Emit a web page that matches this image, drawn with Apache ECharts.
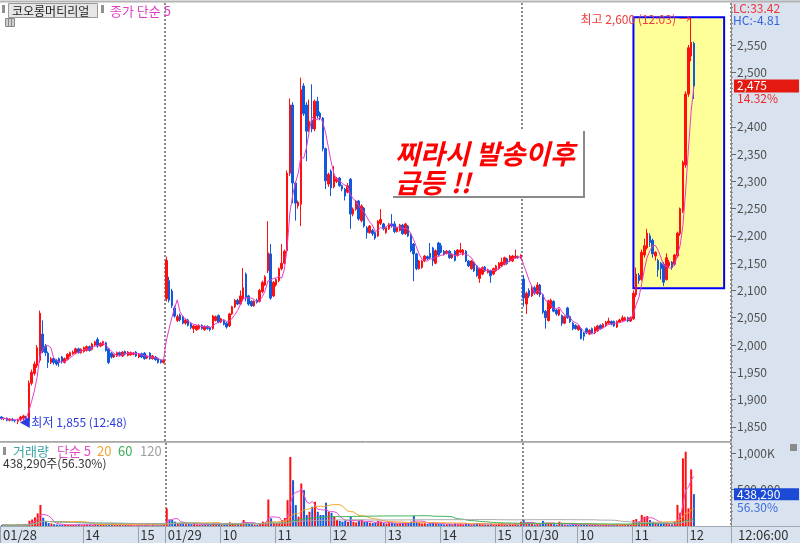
<!DOCTYPE html>
<html><head><meta charset="utf-8">
<script src="https://cdn.jsdelivr.net/npm/echarts@6/dist/echarts.min.js"></script>
<style>html,body{margin:0;padding:0;background:#fff}#c{width:800px;height:543px}</style>
</head><body><div id="c"></div>
<script>
// ---------- DATA ----------
const dayNames = ['01/28', '01/29', '01/30'];
const dayStartMin = [12 * 60 + 30, 9 * 60, 9 * 60];
const stepMin = 3;
// [open, close, low, high]
const day1 = [
[1868,1865,1863,1870],[1865,1866,1862,1867],[1866,1862,1860,1867],[1862,1864,1860,1865],[1864,1862,1860,1866],
[1862,1861,1858,1864],[1860,1863,1855,1865],[1863,1868,1860,1870],[1866,1870,1862,1872],[1868,1864,1860,1870],
[1862,1930,1860,1935],[1930,1950,1926,1955],[1948,1965,1944,1970],[1962,1995,1958,2000],[1972,2058,1968,2063],
[2020,1988,1985,2045],[1998,1986,1980,2002],[1985,1968,1958,1988],[1968,1975,1965,1978],[1975,1968,1964,1977],
[1972,1965,1962,1974],[1975,1968,1960,1977],[1978,1970,1966,1980],[1968,1975,1966,1977],[1974,1983,1972,1985],
[1980,1986,1978,1988],[1984,1987,1982,1990],[1985,1993,1983,1995],[1993,1986,1984,1995],[1986,1992,1984,1994],
[1988,1995,1986,1997],[1990,1997,1988,1999],[1997,1990,1988,1999],[1992,2002,1990,2004],[2000,2006,1998,2008],
[2010,1998,1995,2014],[1998,2003,1996,2005],[2000,2006,1998,2008],[2004,1990,1988,2006],[1993,1968,1965,1995],
[1985,1978,1975,1987],[1978,1982,1976,1984],[1980,1986,1978,1988],[1986,1982,1980,1988],[1980,1987,1978,1989],
[1988,1983,1981,1990],[1981,1987,1979,1989],[1982,1986,1980,1988],[1983,1985,1981,1987],[1987,1980,1978,1989],
[1978,1983,1976,1985],[1984,1978,1976,1986],[1985,1975,1973,1987],[1976,1980,1974,1982],[1985,1975,1973,1987],
[1975,1980,1973,1982],[1978,1973,1971,1980],[1975,1968,1966,1977],[1972,1968,1966,1974],[1968,1972,1966,1974]
];
const day2 = [
[2085,2155,2080,2162],[2118,2082,2078,2125],[2099,2072,2068,2103],[2068,2053,2050,2072],[2045,2052,2042,2056],
[2055,2046,2043,2058],[2052,2040,2038,2054],[2040,2046,2037,2048],[2046,2036,2034,2048],[2040,2032,2029,2042],
[2030,2035,2022,2037],[2028,2035,2026,2037],[2030,2036,2028,2038],[2036,2030,2028,2038],[2028,2034,2026,2036],
[2034,2030,2028,2036],[2032,2028,2025,2034],[2030,2053,2028,2055],[2045,2052,2043,2054],[2054,2042,2040,2056],
[2042,2048,2040,2050],[2045,2038,2036,2047],[2040,2033,2030,2042],[2035,2057,2033,2059],[2057,2070,2055,2072],
[2070,2082,2068,2084],[2082,2075,2073,2085],[2075,2090,2073,2100],[2085,2105,2080,2141],[2130,2086,2080,2133],
[2090,2075,2072,2092],[2080,2072,2070,2082],[2072,2080,2070,2082],[2082,2078,2076,2085],[2080,2100,2078,2103],
[2098,2115,2095,2118],[2110,2125,2108,2128],[2136,2169,2132,2227],[2167,2086,2083,2185],[2090,2115,2088,2117],
[2110,2120,2107,2123],[2118,2140,2115,2142],[2140,2150,2137,2185],[2150,2172,2148,2175],[2173,2315,2170,2320],
[2315,2440,2310,2452],[2440,2297,2260,2445],[2297,2260,2228,2300],[2255,2262,2250,2265],[2258,2468,2218,2490],
[2475,2424,2420,2480],[2440,2392,2337,2445],[2396,2410,2390,2450],[2412,2396,2390,2478],[2396,2447,2392,2450],
[2447,2420,2415,2455],[2425,2416,2412,2428],[2416,2360,2355,2418],[2360,2301,2286,2362],[2295,2313,2290,2316],
[2319,2288,2273,2322],[2290,2310,2287,2328],[2300,2305,2297,2308],[2306,2292,2290,2308],[2292,2286,2282,2294],
[2286,2273,2265,2288],[2280,2292,2278,2297],[2304,2240,2213,2306],[2240,2249,2236,2252],[2249,2264,2246,2266],
[2264,2231,2228,2266],[2228,2255,2225,2258],[2251,2218,2215,2253],[2215,2206,2195,2218],[2206,2218,2204,2220],
[2210,2204,2200,2213],[2206,2196,2193,2208],[2200,2227,2198,2229],[2223,2230,2220,2249],[2222,2213,2210,2224],
[2206,2215,2204,2217],[2213,2222,2211,2224],[2222,2218,2215,2240],[2222,2208,2205,2227],[2208,2215,2206,2217],
[2210,2220,2208,2222],[2220,2204,2202,2222],[2204,2222,2202,2224],[2218,2200,2198,2220],[2203,2173,2170,2205],
[2185,2167,2117,2187],[2167,2140,2137,2169],[2140,2154,2138,2156],[2142,2154,2140,2156],[2154,2163,2152,2165],
[2162,2158,2156,2164],[2168,2160,2158,2187],[2178,2154,2145,2180],[2150,2173,2148,2175],[2187,2165,2163,2189],
[2182,2170,2168,2187],[2172,2166,2164,2174],[2168,2172,2166,2174],[2172,2160,2158,2174],[2160,2166,2158,2168],
[2172,2155,2153,2174],[2164,2174,2162,2176],[2170,2174,2168,2187],[2166,2174,2164,2176],[2172,2154,2152,2174],
[2154,2145,2143,2156],[2140,2154,2138,2156],[2151,2136,2134,2153],[2145,2127,2125,2147],[2122,2140,2114,2142],
[2130,2142,2128,2144],[2143,2136,2134,2145],[2133,2138,2131,2140],[2136,2127,2114,2138],[2130,2140,2128,2142],
[2136,2145,2134,2147],[2140,2150,2138,2152],[2145,2152,2143,2160],[2148,2160,2146,2162],[2158,2149,2147,2160],
[2154,2163,2152,2165],[2154,2163,2152,2165],[2160,2163,2158,2175],[2162,2160,2158,2164],[2160,2165,2158,2166]
];
const day3 = [
[2121,2086,2070,2128],[2075,2095,2057,2098],[2100,2090,2086,2104],[2090,2105,2088,2108],[2105,2095,2092,2108],
[2094,2110,2092,2115],[2110,2092,2088,2112],[2092,2060,2057,2094],[2062,2050,2030,2064],[2045,2081,2043,2083],
[2068,2082,2066,2085],[2080,2062,2060,2082],[2064,2057,2054,2066],[2055,2065,2053,2067],[2054,2040,2035,2056],
[2040,2052,2038,2054],[2068,2050,2048,2070],[2052,2043,2040,2054],[2040,2030,2027,2042],[2036,2030,2028,2038],
[2028,2035,2026,2037],[2030,2012,2010,2032],[2022,2016,2008,2024],[2030,2022,2020,2032],[2020,2027,2018,2029],
[2030,2022,2020,2032],[2022,2032,2020,2034],[2026,2035,2024,2037],[2036,2030,2028,2038],[2032,2038,2030,2040],
[2035,2042,2033,2044],[2040,2044,2038,2050],[2043,2038,2036,2045],[2043,2035,2033,2045],[2033,2043,2031,2045],
[2042,2046,2040,2048],[2045,2050,2043,2054],[2046,2050,2044,2052],[2050,2044,2042,2052],[2044,2050,2042,2052],
[2048,2095,2046,2100],[2092,2130,2088,2142],[2128,2118,2112,2132],[2120,2170,2118,2175],[2165,2182,2160,2195],
[2178,2205,2175,2213],[2200,2188,2180,2205],[2192,2167,2160,2195],[2163,2170,2155,2172],[2155,2138,2125,2158],
[2150,2140,2120,2152],[2148,2115,2108,2152],[2120,2160,2118,2168],[2145,2152,2142,2156],[2152,2142,2138,2154],
[2148,2165,2145,2167],[2163,2205,2160,2208],[2204,2250,2200,2252],[2245,2335,2242,2338],[2330,2460,2325,2465],
[2460,2545,2455,2550],[2530,2555,2520,2600],[2553,2475,2451,2556]
];
// volume in thousands of shares
const vol1 = [15,10,12,8,10,14,20,12,18,25, 73,90,119,174,289,114,69,40,35,25, 20,18,15,18,14,20,18,15,20,14,
  18,20,16,14,25,20,30,18,16,20, 40,25,14,18,12,16,14,18,10,12, 16,10,14,20,10,18,12,14,20,25];
const vol2 = [242,91,82,59,35,40,45,25,30,25, 30,20,18,18,20,15,18,45,25,30, 18,20,18,50,40,35,25,35,82,55,
  35,25,20,18,40,60,50,365,105,45, 40,45,82,110,356,950,630,288,128,584, 493,151,196,265,333,196,151,151,320,196,
  183,128,82,70,60,75,55,128,60,50, 70,82,60,55,45,40,45,70,60,40, 35,40,45,40,35,38,40,45,42,60,
  137,55,45,35,38,28,40,45,35,30, 28,22,25,30,22,35,25,30,22,35, 28,22,30,40,35,25,22,20,30,22,
  25,30,35,25,22,25,22,35,20,59];
const vol3 = [82,45,35,28,22,30,25,70,45,40, 30,25,20,59,25,20,18,20,25,18, 20,25,20,15,18,15,18,15,12,18,
  15,12,15,18,20,18,25,20,18,22, 82,96,60,151,128,137,82,59,40,35, 30,40,45,25,22,60,290,183,931,1022,
  243,778.49,438.29];
const tickIdx  = [0, 30, 50, 60, 80, 100, 120, 140, 160, 180, 190, 210, 230, 250];
const tickText = ['01/28','14','15','01/29','10','11','12','13','14','15','01/30','10','11','12'];
const priceLabels = [1850,1900,1950,2000,2050,2100,2150,2200,2250,2300,2350,2400,2500,2550];
const volLabels = [500000, 1000000];
const padSlots = 13;
const stockName = '코오롱머티리얼';
const noteLines = ['찌라시 발송이후', '급등 !!'];
const boxFrom = [230, 2601], boxTo = [263, 2104];

// ---------- BUILD ----------
const days = [day1, day2, day3];
const vols = [vol1, vol2, vol3];
const cats = [], ohlc = [], volume = [], closes = [], volRaw = [];
const pad2 = n => (n < 10 ? '0' : '') + n;
days.forEach((d, di) => d.forEach((c, k) => {
  const m = dayStartMin[di] + stepMin * k;
  cats.push(dayNames[di] + ' ' + pad2(Math.floor(m / 60)) + ':' + pad2(m % 60));
  ohlc.push(c);
  closes.push(c[1]);
  const v = Math.round(vols[di][k] * 1000);
  volRaw.push(v);
  volume.push({ value: v, itemStyle: { color: c[1] >= c[0] ? '#ff1010' : '#1258dc' } });
}));
for (let i = 0; i < padSlots; i++) cats.push('pad' + i);
function sma(arr, n) {
  return arr.map((_, i) => { const s = Math.max(0, i - n + 1); let t = 0; for (let k = s; k <= i; k++) t += arr[k]; return +(t / (i - s + 1)).toFixed(2); });
}
const fmt = n => Math.round(n).toLocaleString('en-US');
const tickSet = new Map(tickIdx.map((v, i) => [v, tickText[i]]));
const dayBreaks = new Set([day1.length, day1.length + day2.length]);
const n = ohlc.length;
let hiI = 0, loI = 0;
ohlc.forEach((c, i) => { if (c[3] > ohlc[hiI][3]) hiI = i; if (c[2] < ohlc[loI][2]) loI = i; });
const last = ohlc[n - 1], lastClose = last[1];
const prevDayClose = day2[day2.length - 1][1];
const hiV = ohlc[hiI][3], loV = ohlc[loI][2];
const lastVol = volRaw[n - 1], prevVol = volRaw[n - 2];
const timeOf = i => cats[i].split(' ')[1];

const FONT = '"Noto Sans CJK KR", "DejaVu Sans", sans-serif';
const minorPrice = []; for (let v = 1830; v <= 2620; v += 10) if (v % 50) minorPrice.push(v);
const minorVol = []; for (let v = 100000; v <= 1100000; v += 100000) if (v % 500000) minorVol.push(v);
const PMIN = 1824, PMAX = 2627, VMAX = 1142000;

const chart = echarts.init(document.getElementById('c'), null, { renderer: 'canvas' });
const splitDays = { show: true, interval: (i) => dayBreaks.has(i), lineStyle: { color: '#666', type: [2, 2], width: 1.5 } };
const option = {
  animation: false,
  textStyle: { fontFamily: FONT },
  grid: [
    { left: 0, top: 3, width: 731, height: 438 },
    { left: 0, top: 443, width: 731, height: 83 }
  ],
  xAxis: [
    { type: 'category', gridIndex: 0, data: cats, boundaryGap: true,
      axisLine: { show: true, lineStyle: { color: '#a8a8a8' } }, axisTick: { show: false }, axisLabel: { show: false },
      splitLine: splitDays },
    { type: 'category', gridIndex: 1, data: cats, boundaryGap: true,
      axisLine: { show: true, lineStyle: { color: '#a8a8a8' } },
      axisTick: { show: true, interval: (i) => tickSet.has(i), length: 17, lineStyle: { color: '#98a4b0' } },
      axisLabel: { show: true, interval: (i) => tickSet.has(i), formatter: (v, i) => tickSet.get(i) || '',
        align: 'left', margin: 3, color: '#333', fontSize: 13, fontFamily: FONT, padding: [0, 0, 0, 1] },
      splitLine: splitDays }
  ],
  yAxis: [
    { type: 'value', gridIndex: 0, position: 'right', min: PMIN, max: PMAX,
      axisLine: { show: true, lineStyle: { color: '#8c8c8c' } },
      axisTick: { show: true, length: 5, customValues: priceLabels, lineStyle: { color: '#666' } },
      axisLabel: { show: true, customValues: priceLabels, formatter: v => fmt(v), color: '#505050', fontSize: 12, margin: 6, fontFamily: FONT },
      splitLine: { show: false } },
    { type: 'value', gridIndex: 0, position: 'right', min: PMIN, max: PMAX,
      axisLine: { show: false }, axisTick: { show: true, length: 2, customValues: minorPrice, lineStyle: { color: '#888' } },
      axisLabel: { show: false }, splitLine: { show: false } },
    { type: 'value', gridIndex: 1, position: 'right', min: 0, max: VMAX,
      axisLine: { show: true, lineStyle: { color: '#8c8c8c' } },
      axisTick: { show: true, length: 5, customValues: volLabels, lineStyle: { color: '#666' } },
      axisLabel: { show: true, customValues: volLabels, formatter: v => v >= 1000000 ? fmt(v / 1000) + 'K' : fmt(v), color: '#505050', fontSize: 12, margin: 6, fontFamily: FONT },
      splitLine: { show: false } },
    { type: 'value', gridIndex: 1, position: 'right', min: 0, max: VMAX,
      axisLine: { show: false }, axisTick: { show: true, length: 2, customValues: minorVol, lineStyle: { color: '#888' } },
      axisLabel: { show: false }, splitLine: { show: false } }
  ],
  series: [
    { type: 'candlestick', name: 'price', xAxisIndex: 0, yAxisIndex: 0, data: ohlc, barWidth: 2, z: 3,
      itemStyle: { color: '#ff1010', color0: '#1258dc', borderColor: '#ff1010', borderColor0: '#1258dc', borderWidth: 1 },
      markArea: { silent: true, label: { show: false },
        itemStyle: { color: '#ffff99', borderColor: '#0000ff', borderWidth: 2, opacity: 1 },
        data: [[{ xAxis: boxFrom[0], yAxis: boxFrom[1] }, { xAxis: boxTo[0], yAxis: boxTo[1] }]] },
      markPoint: { silent: true, symbol: 'circle', symbolSize: 1, itemStyle: { color: 'rgba(0,0,0,0)' },
        data: [
          { coord: [hiI, hiV], label: { show: true, position: 'left', distance: 0, offset: [0, 2], color: '#f03c3c', fontSize: 12, fontFamily: FONT,
            formatter: '최고 ' + fmt(hiV) + ' (' + timeOf(hiI) + ') →' } },
          { coord: [loI, loV], label: { show: true, position: 'right', distance: 1, offset: [0, -2], color: '#2a3ce0', fontSize: 12, fontFamily: FONT,
            formatter: '◀최저 ' + fmt(loV) + ' (' + timeOf(loI) + ')' } }
        ] } },
    { type: 'line', name: 'ma5', xAxisIndex: 0, yAxisIndex: 0, data: sma(closes, 5), symbol: 'none', z: 4,
      lineStyle: { color: '#e43cc8', width: 1 } },
    { type: 'bar', name: 'vol', xAxisIndex: 1, yAxisIndex: 2, data: volume, barWidth: 2, z: 2 },
    { type: 'line', xAxisIndex: 1, yAxisIndex: 2, data: sma(volRaw, 5), symbol: 'none', z: 4, lineStyle: { color: '#e84ccf', width: 1 } },
    { type: 'line', xAxisIndex: 1, yAxisIndex: 2, data: sma(volRaw, 20), symbol: 'none', z: 4, lineStyle: { color: '#f2a52a', width: 1 } },
    { type: 'line', xAxisIndex: 1, yAxisIndex: 2, data: sma(volRaw, 60), symbol: 'none', z: 4, lineStyle: { color: '#3cb05a', width: 1 } },
    { type: 'line', xAxisIndex: 1, yAxisIndex: 2, data: sma(volRaw, 120), symbol: 'none', z: 4, lineStyle: { color: '#a8a8a8', width: 1 } }
  ]
};
chart.setOption(option);

// ---------- overlays ----------
const yLast = chart.convertToPixel({ yAxisIndex: 0 }, lastClose);
const yVol = chart.convertToPixel({ yAxisIndex: 2 }, lastVol);
const T = (x, y, text, fill, size, extra) => Object.assign({ type: 'text', x, y, z: 100,
  style: { text, fill, font: (size || 12) + 'px ' + FONT, verticalAlign: 'middle', textAlign: 'left' } }, extra || {});
const R = (x, y, w, h, fill, stroke, z) => ({ type: 'rect', z: z === undefined ? 100 : z, shape: { x, y, width: w, height: h }, style: { fill, stroke: stroke || null, lineWidth: 1 } });
const L = (x1, y1, x2, y2, stroke, w, z) => ({ type: 'line', z: z === undefined ? 100 : z, shape: { x1, y1, x2, y2 }, style: { stroke, lineWidth: w || 1 } });
const lc = ((lastClose / loV) - 1) * 100, hc = ((lastClose / hiV) - 1) * 100;
const pct = ((lastClose / prevDayClose) - 1) * 100;
const vr = lastVol / prevVol * 100;
chart.setOption({ graphic: { elements: [
  R(731, 0, 69, 543, '#d8e3ef', null, -5),
  R(0, 527, 800, 16, '#d8e3ef', null, -5),
  L(0, 526.5, 800, 526.5, '#a0a8b0', 1, 1),
  L(0, 1.5, 800, 1.5, '#b4b4b4', 2, 1),
  L(0, 442.5, 731, 442.5, '#b8b8b8', 1, 1),
  L(731.5, 527, 731.5, 543, '#98a4b0', 1, 1),
  // header
  R(2, 5, 3, 8, '#909090'),
  R(8.5, 3.5, 89, 14, '#e6e6e6', '#9a9a9a'),
  T(12, 11, stockName, '#222', 12),
  R(101, 5, 3, 8, '#909090'),
  T(110, 11, '종가 단순 5', '#e040c8', 13),
  R(5.5, 18.5, 9, 8, '#d0d0d0', '#888'),
  L(8.5, 19, 8.5, 26, '#888', 1), L(11.5, 19, 11.5, 26, '#888', 1),
  // note box
  R(392, 130, 192, 66, '#ffffff', null, 90),
  L(584, 131, 584, 197, '#8a8a8a', 2, 91),
  L(393, 197, 585, 197, '#8a8a8a', 2, 91),
  { type: 'text', x: 395, y: 154, z: 100, style: { text: noteLines[0], fill: '#ff0000', font: 'italic bold 27px ' + FONT, verticalAlign: 'middle' } },
  { type: 'text', x: 395, y: 183, z: 100, style: { text: noteLines[1], fill: '#ff0000', font: 'italic bold 27px ' + FONT, verticalAlign: 'middle' } },
  // volume legend
  R(3, 447, 3, 8, '#909090'),
  T(13, 451, '거래량', '#3aa4a4', 13),
  T(57, 451, '단순 5', '#e04cc8', 13),
  T(97, 451, '20', '#f0a530', 13),
  T(118, 451, '60', '#3cae58', 13),
  T(140, 451, '120', '#a0a0a0', 13),
  T(3, 463, fmt(lastVol) + '주(' + vr.toFixed(2) + '%)', '#333', 12),
  R(790, 444, 7, 7, '#8a8a8a'),
  // right panel
  T(733, 8, 'LC:' + lc.toFixed(2), '#ee3434', 12),
  T(733, 20, 'HC:' + hc.toFixed(2), '#3466dc', 12),
  R(734, yLast - 6.5, 65, 13, '#e41a10'),
  T(737, yLast, fmt(lastClose), '#ffffff', 12),
  T(737, yLast + 12.5, pct.toFixed(2) + '%', '#ee2a2a', 12),
  R(734, yVol - 6, 65, 12, '#1a4ad6'),
  T(737, yVol, fmt(lastVol), '#ffffff', 12),
  T(737, yVol + 13, vr.toFixed(2) + '%', '#3a6ae0', 12),
  T(738, 535, timeOf(n - 1) + ':00', '#333', 13)
] } });
</script>
</body></html>
